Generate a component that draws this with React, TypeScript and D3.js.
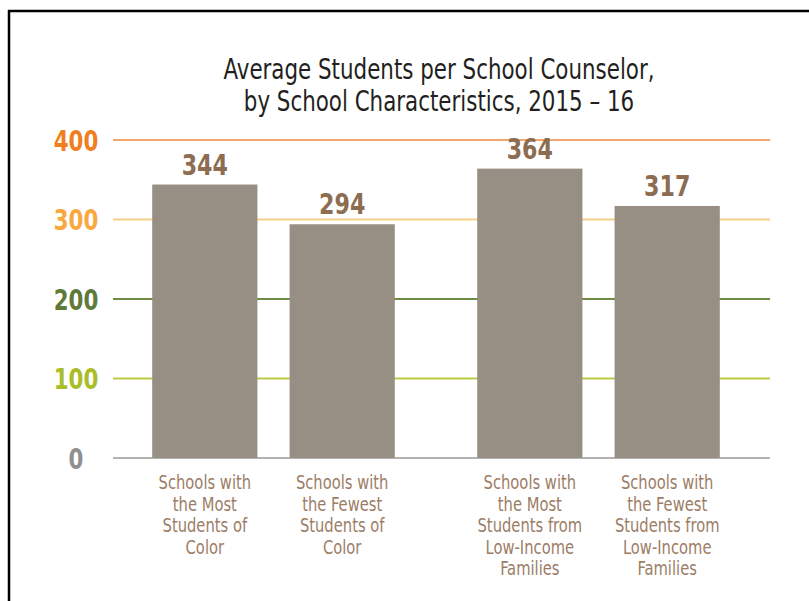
import React from "react";
import * as d3 from "d3";

const groups = ["Students of Color", "Low-Income Families"];
const categories = ["Most", "Fewest"];
const values = [344, 294, 364, 317];
const barGroups = [0, 0, 1, 1];
const barCats = [0, 1, 0, 1];
const labelLines = [
  ["Schools with", "the Most", "Students of", "Color"],
  ["Schools with", "the Fewest", "Students of", "Color"],
  ["Schools with", "the Most", "Students from", "Low-Income", "Families"],
  ["Schools with", "the Fewest", "Students from", "Low-Income", "Families"],
];
const yTicks = [0, 100, 200, 300, 400];
const tickColors = ["#8f8f8f", "#a9bd27", "#5f7a3a", "#f8a83f", "#f07f22"];
const gridColors = ["#b3b3b3", "#bccb45", "#6f8b44", "#f8cf88", "#f3a56c"];
const titleLines = ["Average Students per School Counselor,", "by School Characteristics, 2015 – 16"];

const condensed = "'Liberation Sans Narrow', 'DejaVu Sans Condensed', 'Roboto Condensed', 'Arial Narrow', sans-serif";

function SText({
  x,
  y,
  sx,
  size,
  weight,
  fill,
  children,
}: {
  x: number;
  y: number;
  sx: number;
  size: number;
  weight?: string;
  fill: string;
  children: React.ReactNode;
}) {
  return (
    <g transform={`translate(${x},${y}) scale(${sx},1)`}>
      <text
        x={0}
        y={0}
        textAnchor="middle"
        fontFamily={condensed}
        fontStretch="condensed"
        fontWeight={weight ?? "normal"}
        fontSize={size}
        fill={fill}
      >
        {children}
      </text>
    </g>
  );
}

export default function App() {
  const W = 809;
  const H = 601;
  const y = d3.scaleLinear().domain([0, 400]).range([458, 140]);
  const x0 = d3.scaleBand<string>().domain(groups).range([111, 761]).paddingInner(0).paddingOuter(0);
  const x1 = d3
    .scaleBand<string>()
    .domain(categories)
    .range([0, x0.bandwidth()])
    .paddingInner(0.234)
    .paddingOuter(0.3);
  const gridX0 = 113;
  const gridX1 = 770;

  return (
    <svg width={W} height={H} style={{ position: "absolute", left: 0, top: 0, background: "#fff" }}>
      <rect x={0} y={0} width={W} height={H} fill="#fff" />
      <line x1={9} y1={10} x2={9} y2={H} stroke="#000" strokeWidth={2.5} />
      <line x1={8} y1={11} x2={W} y2={11} stroke="#000" strokeWidth={2.5} />
      {titleLines.map((t, i) => (
        <SText key={t} x={439} y={79 + i * 32} sx={0.85} size={28} fill="#231f20">
          {t}
        </SText>
      ))}
      {yTicks.map((t, i) => (
        <g key={t}>
          <line x1={gridX0} x2={gridX1} y1={y(t)} y2={y(t)} stroke={gridColors[i]} strokeWidth={1.8} />
          <SText x={76} y={y(t) + 10.5} sx={0.82} size={29} weight="bold" fill={tickColors[i]}>
            {t}
          </SText>
        </g>
      ))}
      {values.map((v, i) => {
        const bx = (x0(groups[barGroups[i]]) ?? 0) + (x1(categories[barCats[i]]) ?? 0);
        const bw = x1.bandwidth();
        return (
          <g key={i}>
            <rect x={bx} y={y(v)} width={bw} height={y(0) - y(v)} fill="#978f84" />
            <SText x={bx + bw / 2} y={y(v) - 10} sx={0.88} size={28} weight="bold" fill="#8c6d51">
              {v}
            </SText>
            {labelLines[i].map((l, j) => (
              <SText key={j} x={bx + bw / 2} y={489 + j * 21.5} sx={0.82} size={20} fill="#9c7d66">
                {l}
              </SText>
            ))}
          </g>
        );
      })}
    </svg>
  );
}
